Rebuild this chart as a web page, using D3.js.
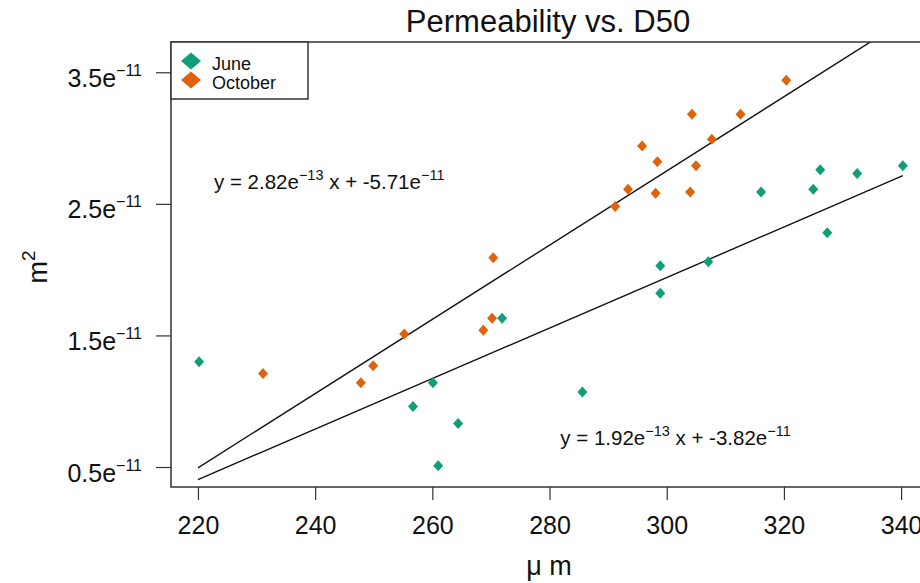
<!DOCTYPE html>
<html>
<head>
<meta charset="utf-8">
<script src="https://cdn.jsdelivr.net/npm/d3@7"></script>
<style>
  body { margin: 0; background: #fff; }
  svg { display: block; font-family: "Liberation Sans", Arial, sans-serif; }
</style>
</head>
<body>
<svg id="chart"></svg>
<script>
// D50 in micrometres, permeability in units of 1e-11 m^2
const juneD50 = [220.2, 256.7, 260.1, 261.0, 264.4, 271.9, 285.6, 298.9, 298.9, 307.1, 316.1, 325.0, 326.2, 327.4, 332.5, 340.3]
const junePerm = [1.30, 0.96, 1.14, 0.51, 0.83, 1.63, 1.07, 2.03, 1.82, 2.06, 2.59, 2.61, 2.76, 2.28, 2.73, 2.79]

const octD50 = [231.1, 247.8, 249.9, 255.2, 268.7, 270.2, 270.4, 291.2, 293.4, 295.8, 298.1, 298.4, 304.0, 304.3, 305.0, 307.7, 312.6, 320.4]
const octPerm = [1.21, 1.14, 1.27, 1.51, 1.54, 1.63, 2.09, 2.48, 2.61, 2.94, 2.58, 2.82, 2.59, 3.18, 2.79, 2.99, 3.18, 3.44]

const seriesNames = ['June', 'October']
const seriesColors = ['#109e78', '#e0620a']

// fitted lines (slope per um and intercept, both in 1e-11 m^2)
const fitSlope = [0.0192, 0.0282]
const fitIntercept = [-3.82, -5.71]
const fitRange = [220, 340.3]
const fitLabels = [
  ['y = 1.92e', '\u221213', ' x + -3.82e', '\u221211'],
  ['y = 2.82e', '\u221213', ' x + -5.71e', '\u221211']
]
const fitLabelAt = [[301.5, 0.73], [242.4, 2.67]]

const xTicks = [220, 240, 260, 280, 300, 320, 340]
const yTicks = [0.5, 1.5, 2.5, 3.5]

const svgWidth = 920
const svgHeight = 583
const plot = { left: 171, top: 42, right: 931, bottom: 487 }

const svg = d3.select('#chart')
  .attr('width', svgWidth)
  .attr('height', svgHeight)

const x = d3.scaleLinear().domain([215.4, 345.1]).range([plot.left, plot.right])
const y = d3.scaleLinear().domain([0.348, 3.73]).range([plot.bottom, plot.top])

svg.append('defs').append('clipPath').attr('id', 'plotclip')
  .append('rect')
  .attr('x', plot.left).attr('y', plot.top)
  .attr('width', plot.right - plot.left).attr('height', plot.bottom - plot.top)

// diamond like R pch 18
const diamond = (w, h) => `M0,${-h}L${w},0L0,${h}L${-w},0Z`

// x axis
const xAxis = svg.append('g')
  .attr('transform', `translate(0,${plot.bottom})`)
  .call(d3.axisBottom(x).tickValues(xTicks).tickSize(13).tickPadding(16).tickFormat(d3.format('d')))
xAxis.select('.domain').remove()
xAxis.selectAll('line').attr('stroke', '#333').attr('stroke-width', 1.2)
xAxis.selectAll('text').attr('font-size', 25).attr('fill', '#111').attr('font-family', null)

// y axis with exponent labels
const yAxis = svg.append('g')
  .attr('transform', `translate(${plot.left},0)`)
  .call(d3.axisLeft(y).tickValues(yTicks).tickSize(15).tickFormat(() => ''))
yAxis.select('.domain').remove()
yAxis.selectAll('line').attr('stroke', '#333').attr('stroke-width', 1.2)
yAxis.selectAll('.tick').each(function (d) {
  const t = d3.select(this).append('text')
    .attr('x', -29)
    .attr('y', 14)
    .attr('fill', '#111')
    .attr('text-anchor', 'end')
    .attr('font-size', 25)
  t.append('tspan').text(d3.format('.1f')(d) + 'e')
  t.append('tspan').attr('dy', -11).attr('font-size', 16).text('\u221211')
})

// regression lines
const fitG = svg.append('g').attr('clip-path', 'url(#plotclip)')
fitSlope.forEach((s, i) => {
  const pts = fitRange.map(v => [v, s * v + fitIntercept[i]])
  fitG.append('path')
    .datum(pts)
    .attr('fill', 'none')
    .attr('stroke', '#111')
    .attr('stroke-width', 1.4)
    .attr('d', d3.line().x(d => x(d[0])).y(d => y(d[1])))
})

// points
const series = [
  juneD50.map((v, i) => [v, junePerm[i]]),
  octD50.map((v, i) => [v, octPerm[i]])
]
series.forEach((pts, i) => {
  svg.append('g').selectAll('path')
    .data(pts)
    .join('path')
    .attr('transform', d => `translate(${x(d[0])},${y(d[1])})`)
    .attr('d', diamond(5, 5.5))
    .attr('fill', seriesColors[i])
})

// equation labels
fitLabels.forEach((parts, i) => {
  const t = svg.append('text')
    .attr('x', x(fitLabelAt[i][0]))
    .attr('y', y(fitLabelAt[i][1]) + 8)
    .attr('text-anchor', 'middle')
    .attr('font-size', 20.5)
    .attr('fill', '#111')
  t.append('tspan').text(parts[0])
  t.append('tspan').attr('dy', -9).attr('font-size', 14.5).text(parts[1])
  t.append('tspan').attr('dy', 9).text(parts[2])
  t.append('tspan').attr('dy', -9).attr('font-size', 14.5).text(parts[3])
})

// frame
svg.append('rect')
  .attr('x', plot.left).attr('y', plot.top)
  .attr('width', plot.right - plot.left).attr('height', plot.bottom - plot.top)
  .attr('fill', 'none')
  .attr('stroke', '#333')
  .attr('stroke-width', 1.5)

// legend
const legend = svg.append('g')
legend.append('rect')
  .attr('x', plot.left).attr('y', plot.top)
  .attr('width', 137).attr('height', 57)
  .attr('fill', '#fff')
  .attr('stroke', '#333')
  .attr('stroke-width', 1.5)
seriesNames.forEach((name, i) => {
  legend.append('path')
    .attr('transform', `translate(${plot.left + 20},${plot.top + 19 + i * 19})`)
    .attr('d', diamond(10, 8.5))
    .attr('fill', seriesColors[i])
  legend.append('text')
    .attr('x', plot.left + 41)
    .attr('y', plot.top + 28 + i * 19)
    .attr('font-size', 18)
    .attr('fill', '#111')
    .text(name)
})

// titles
svg.append('text')
  .attr('x', 548).attr('y', 32)
  .attr('text-anchor', 'middle')
  .attr('font-size', 31)
  .attr('fill', '#111')
  .text('Permeability vs. D50')

svg.append('text')
  .attr('x', 549).attr('y', 575)
  .attr('text-anchor', 'middle')
  .attr('font-size', 27)
  .attr('fill', '#111')
  .text('\u03bc m')

const yLab = svg.append('text')
  .attr('transform', 'translate(47,267) rotate(-90)')
  .attr('text-anchor', 'middle')
  .attr('font-size', 27)
  .attr('fill', '#111')
yLab.append('tspan').text('m')
yLab.append('tspan').attr('dy', -12).attr('font-size', 19).text('2')
</script>
</body>
</html>
